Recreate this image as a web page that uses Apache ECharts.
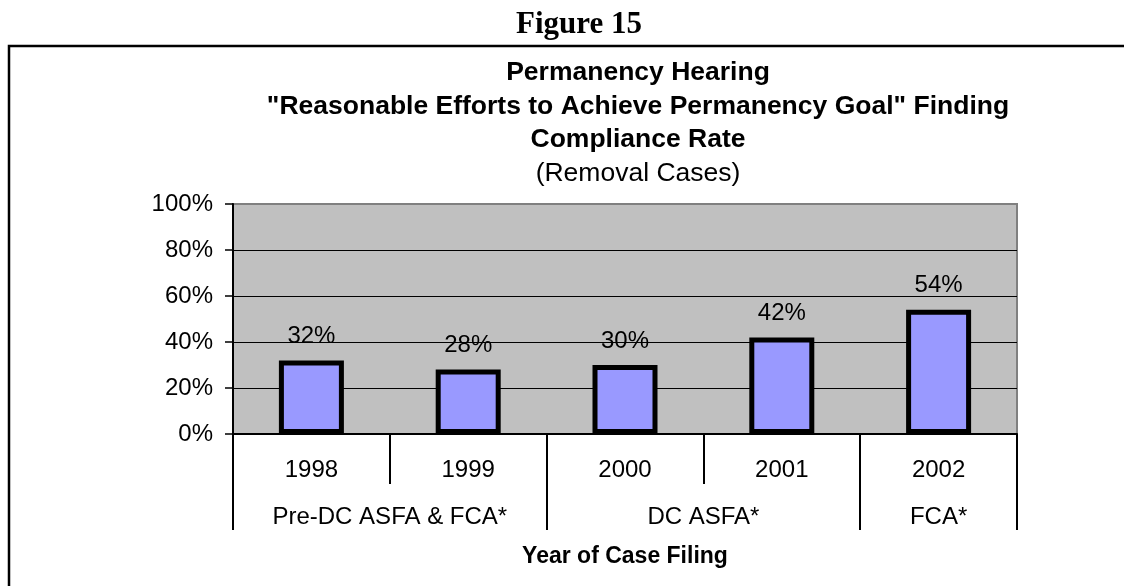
<!DOCTYPE html>
<html>
<head>
<meta charset="utf-8">
<script src="https://cdn.jsdelivr.net/npm/echarts@6/dist/echarts.min.js"></script>
<style>
html,body{margin:0;padding:0;background:#fff;}
#chart{width:1124px;height:586px;}
</style>
</head>
<body>
<div id="chart"></div>
<script>
var years = ['1998', '1999', '2000', '2001', '2002'];
var rates = [32, 28, 30, 42, 54];
var groups = ['Pre-DC ASFA & FCA*', 'DC ASFA*', 'FCA*'];
var groupSpans = [2, 2, 1];
var yTicks = [0, 20, 40, 60, 80, 100];
var titleLines = ['Permanency Hearing', '"Reasonable Efforts to Achieve Permanency Goal" Finding', 'Compliance Rate'];
var subTitle = '(Removal Cases)';
var figureLabel = 'Figure 15';
var axisTitle = 'Year of Case Filing';

// build half-step positions for the group axis
var halfCount = years.length * 2 + 1;
var halfData = [];
for (var i = 0; i < halfCount; i++) halfData.push('h' + i);
var groupLabelAt = {};
var groupBoundAt = {0: true};
var pos = 0;
groups.forEach(function (g, k) {
  groupLabelAt[pos + groupSpans[k]] = g; // center in half steps
  pos += groupSpans[k] * 2;
  groupBoundAt[pos] = true;
});

var FONT = "'Liberation Sans', Arial, sans-serif";
var chart = echarts.init(document.getElementById('chart'), null, {renderer: 'canvas'});
var richTitle = titleLines.map(function (t) { return '{b|' + t + '}'; }).join('\n') + '\n{n|' + subTitle + '}';

chart.setOption({
  animation: false,
  backgroundColor: '#ffffff',
  graphic: [{
    type: 'rect',
    shape: {x: 9, y: 46, width: 1200, height: 600},
    style: {fill: 'none', stroke: '#000', lineWidth: 2.5},
    silent: true,
    z: -10
  }],
  title: [{
    text: figureLabel,
    left: 579, top: 24.5, padding: 0,
    textAlign: 'center', textVerticalAlign: 'middle',
    textStyle: {fontFamily: "'Liberation Serif', 'Times New Roman', serif", fontWeight: 'bold', fontSize: 31, color: '#000'}
  }, {
    text: richTitle,
    left: 638, top: 56, padding: 0,
    textAlign: 'center',
    textStyle: {
      fontFamily: FONT, color: '#000',
      rich: {
        b: {fontFamily: FONT, fontWeight: 'bold', fontSize: 26.5, lineHeight: 33.5, color: '#000'},
        n: {fontFamily: FONT, fontWeight: 'normal', fontSize: 26.5, lineHeight: 33.5, color: '#000'}
      }
    }
  }],
  grid: {
    left: 233, top: 204, width: 784, height: 230,
    show: true, backgroundColor: '#c0c0c0', borderColor: '#808080', borderWidth: 2
  },
  xAxis: [{
    type: 'category',
    data: years,
    position: 'bottom',
    axisLine: {show: true, lineStyle: {color: '#000', width: 2}},
    axisTick: {show: true, interval: 0, length: 50, lineStyle: {color: '#000', width: 2}},
    axisLabel: {interval: 0, margin: 24, fontSize: 24, color: '#000', fontFamily: FONT},
    splitLine: {show: false}
  }, {
    type: 'category',
    data: halfData,
    boundaryGap: false,
    position: 'bottom',
    axisLine: {show: false},
    axisTick: {
      show: true, length: 96,
      interval: function (idx) { return !!groupBoundAt[idx]; },
      lineStyle: {color: '#000', width: 2}
    },
    axisLabel: {
      interval: 0, margin: 71, fontSize: 24, color: '#000', fontFamily: FONT,
      formatter: function (v, idx) { return groupLabelAt[idx] || ''; }
    },
    name: axisTitle,
    nameLocation: 'middle',
    nameGap: 111,
    nameTextStyle: {fontFamily: FONT, fontWeight: 'bold', fontSize: 23, color: '#000'},
    splitLine: {show: false}
  }],
  yAxis: {
    type: 'value',
    min: yTicks[0], max: yTicks[yTicks.length - 1], interval: yTicks[1] - yTicks[0],
    axisLine: {show: true, lineStyle: {color: '#000', width: 2}},
    axisTick: {show: true, length: 8, lineStyle: {color: '#000', width: 1.5}},
    axisLabel: {margin: 20, fontSize: 24, color: '#000', fontFamily: FONT, formatter: '{value}%'},
    splitLine: {show: true, showMaxLine: false, lineStyle: {color: '#000', width: 1}}
  },
  series: [{
    type: 'bar',
    xAxisIndex: 0,
    data: rates,
    barWidth: 65,
    itemStyle: {color: '#9999ff', borderColor: '#000', borderWidth: 5},
    label: {show: true, position: 'top', distance: 12, fontSize: 24, color: '#000', fontFamily: FONT, formatter: '{c}%'}
  }]
});
</script>
</body>
</html>
